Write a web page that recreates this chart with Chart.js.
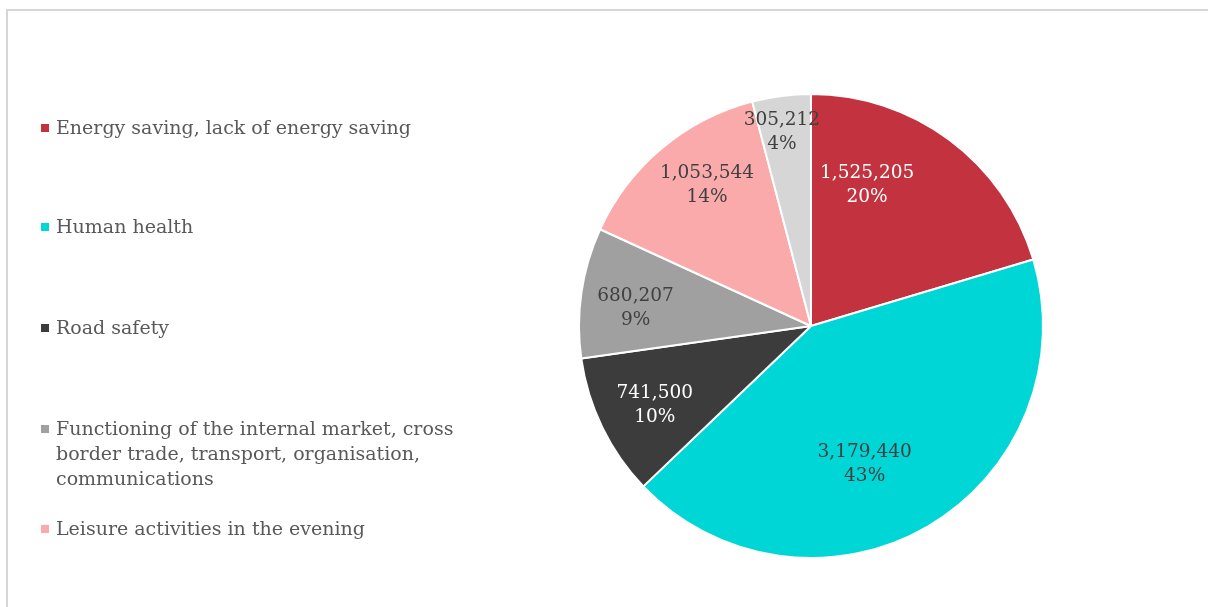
<!DOCTYPE html>
<html><head><meta charset="utf-8">
<script src="https://cdn.jsdelivr.net/npm/chart.js@4/dist/chart.umd.min.js"></script>
<style>
html,body{margin:0;padding:0;background:#fff;width:1208px;height:607px;overflow:hidden;}
#frame{position:absolute;left:6px;top:9px;width:1300px;height:700px;border-top:2px solid #d6d6d6;border-left:2px solid #d6d6d6;}
#wrap{position:absolute;left:0;top:0;width:1208px;height:607px;}
#legend{position:absolute;left:0;top:0;}
.li{position:absolute;left:41px;font-family:Georgia,"DejaVu Serif",serif;font-size:19px;line-height:25px;color:#595959;white-space:nowrap;}
.li span.sw{position:absolute;left:0;top:9px;width:8px;height:8px;}
.li div.tx{margin-left:15px;}
</style></head>
<body>
<div id="frame"></div>
<div id="wrap"><canvas id="c" width="1208" height="607"></canvas></div>
<div id="legend"></div>
<script>
const categories = [
  "Energy saving, lack of energy saving",
  "Human health",
  "Road safety",
  "Functioning of the internal market, cross\nborder trade, transport, organisation,\ncommunications",
  "Leisure activities in the evening",
  "Other"
];
const values = [1525205, 3179440, 741500, 680207, 1053544, 305212];
const percentLabels = ["20%", "43%", "10%", "9%", "14%", "4%"];
const colors = ["#C3323F", "#00D6D6", "#3C3C3C", "#A0A0A0", "#FAAAAA", "#D6D6D6"];
const labelColors = ["#FFFFFF", "#404040", "#FFFFFF", "#404040", "#404040", "#404040"];
const labelAngleShift = [-15, 9, -1, -2.5, 3.6, -1.2];
const labelRadius = [0.655, 0.64, 0.755, 0.76, 0.755, 0.845];
const legendTops = [127, 226, 327, 428, 528, 628];

const fmt = v => v.toString().replace(/\B(?=(\d{3})+(?!\d))/g, ",");

const labelPlugin = {
  id: 'sliceLabels',
  afterDatasetsDraw(chart) {
    const ctx = chart.ctx;
    const meta = chart.getDatasetMeta(0);
    ctx.save();
    ctx.font = '18.5px Georgia, "DejaVu Serif", serif';
    ctx.textAlign = 'center';
    ctx.textBaseline = 'middle';
    meta.data.forEach((arc, i) => {
      const p = arc.getProps(['x','y','startAngle','endAngle','outerRadius'], true);
      const mid = (p.startAngle + p.endAngle) / 2 + labelAngleShift[i] * Math.PI / 180;
      const r = p.outerRadius * labelRadius[i];
      const cx = p.x + Math.cos(mid) * r;
      const cy = p.y + Math.sin(mid) * r;
      ctx.fillStyle = labelColors[i];
      ctx.fillText(fmt(values[i]), cx, cy - 12);
      ctx.fillText(percentLabels[i], cx, cy + 12);
    });
    ctx.restore();
  }
};

new Chart(document.getElementById('c'), {
  type: 'pie',
  data: {
    labels: categories,
    datasets: [{
      data: values,
      backgroundColor: colors,
      borderColor: '#FFFFFF',
      borderWidth: 2
    }]
  },
  options: {
    responsive: false,
    animation: false,
    events: [],
    layout: { padding: { left: 578, right: 164, top: 93, bottom: 48 } },
    plugins: { legend: { display: false }, tooltip: { enabled: false } }
  },
  plugins: [labelPlugin]
});

const lg = document.getElementById('legend');
categories.forEach((name, i) => {
  const d = document.createElement('div');
  d.className = 'li';
  d.style.top = (legendTops[i] - 12.5) + 'px';
  const sw = document.createElement('span');
  sw.className = 'sw';
  sw.style.background = colors[i];
  const tx = document.createElement('div');
  tx.className = 'tx';
  tx.innerHTML = name.split('\n').join('<br>');
  d.appendChild(sw); d.appendChild(tx);
  lg.appendChild(d);
});
</script>
</body></html>
